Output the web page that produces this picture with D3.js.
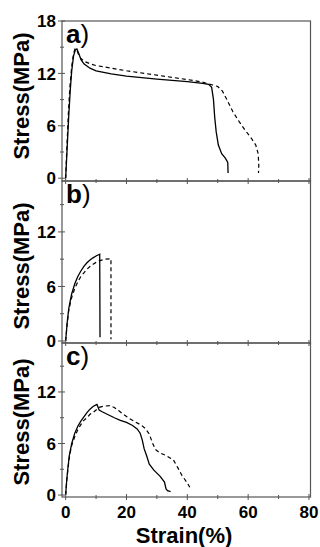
<!DOCTYPE html>
<html>
<head>
<meta charset="utf-8">
<script src="https://cdn.jsdelivr.net/npm/d3@7"></script>
<style>
	body { margin: 0; background: #fff; }
	text { font-family: "Liberation Sans", Arial, sans-serif; font-weight: bold; fill: #000; }
</style>
</head>
<body>
<div class="chart"></div>
<script>
// strain (%) / stress (MPa) pairs
let aSolid = [[0,0],[0.5,3.5],[1,7],[1.5,10],[2,12.3],[2.6,14],[3.2,14.7],[3.7,14.8],[4.3,14.3],[5,13.6],[6,13.1],[8,12.6],[10,12.3],[15,11.95],[20,11.7],[30,11.35],[40,11.05],[45,10.85],[47,10.75],[48,10.4],[48.6,9],[49,7],[49.5,5.3],[50.2,3.8],[51.3,2.8],[52.5,2.3],[53.3,1.8],[53.4,0.6]];
let aDash = [[0,0],[0.4,3.5],[0.9,7.5],[1.4,10.5],[2,12.8],[2.6,14.3],[3.1,14.8],[3.6,14.7],[4.2,14.2],[5,13.7],[6,13.4],[8,13.1],[10,12.9],[15,12.6],[20,12.3],[30,11.8],[40,11.3],[45,11.0],[48,10.7],[50,10.5],[51.5,10.0],[53,9.0],[55,7.6],[57,6.5],[59,5.5],[61,4.6],[62.5,3.8],[63.3,2.8],[63.5,1.5],[63.4,0.6]];
let bSolid = [[0,0],[0.5,2],[1,3.5],[1.5,4.4],[2,5.2],[3,6.3],[4,7.1],[5,7.7],[6,8.2],[7,8.6],[8,8.9],[9,9.15],[10,9.35],[11.2,9.55],[11.3,0.4]];
let bDash = [[0,0],[0.5,1.9],[1,3.3],[1.5,4.1],[2,4.8],[3,5.8],[4,6.5],[5,7.1],[6,7.5],[7,7.9],[8,8.2],[9,8.45],[10,8.65],[11.2,8.85],[13,9.0],[14.9,9.05],[14.9,0.2]];
let cSolid = [[0,0],[0.3,1.5],[0.7,3],[1.2,4.6],[2,6.0],[3,7.2],[4,8.0],[5,8.6],[6,9.1],[7,9.6],[8,10.0],[9,10.3],[10,10.5],[10.3,10.55],[11,9.9],[12,9.7],[14,9.35],[16,9.0],[18,8.7],[20,8.45],[22,8.1],[23.5,7.7],[24.5,7.2],[25.2,6.4],[25.8,5.4],[26.6,4.6],[27.5,3.6],[29,2.9],[31,2.2],[32.5,1.5],[33,0.7],[33.5,0.5],[34.5,0.4]];
let cDash = [[0,0],[0.4,1.8],[0.8,3.2],[1.3,4.6],[2,5.8],[3,6.8],[4,7.6],[5,8.2],[6,8.7],[7,9.0],[8,9.4],[9,9.6],[10,9.9],[11,10.2],[12.5,10.35],[14.5,10.4],[16,10.2],[17.5,9.8],[19,9.4],[21,8.9],[23,8.5],[25,8.1],[26.3,7.7],[27.5,7.1],[28.5,6.1],[29.5,5.3],[31,4.9],[33,4.6],[35.4,4.1],[37,3.1],[38.2,2.3],[40,1.4],[40.8,0.9]];

let panelNames = ['a', 'b', 'c'];
let yTickLabels = [[0, 6, 12, 18], [0, 6, 12], [0, 6, 12]];
let yMinorTicks = [3, 9, 15];
let xTickLabels = [0, 20, 40, 60, 80];
let xMinorTicks = [10, 30, 50, 70];

let svg = d3.select('.chart')
	.append('svg')
	.attr('width', 320)
	.attr('height', 547);

let x = d3.scaleLinear().domain([-1.2, 80.5]).range([62, 310.5]);

// frame placement of each panel
let panels = [
	{ top: 21, bottom: 181, ymin: -0.32, ymax: 18, mid: 96, solid: aSolid, dash: aDash },
	{ top: 181, bottom: 343, ymin: -0.22, ymax: 17.6, mid: 266, solid: bSolid, dash: bDash },
	{ top: 343, bottom: 497, ymin: -0.23, ymax: 17.7, mid: 422, solid: cSolid, dash: cDash }
];

panels.forEach((p, i) => {
	let y = d3.scaleLinear().domain([p.ymin, p.ymax]).range([p.bottom, p.top]);
	let g = svg.append('g');

	let line = d3.line()
		.x(d => x(d[0]))
		.y(d => y(d[1]));

	g.append('path')
		.attr('d', line(p.solid))
		.attr('fill', 'none')
		.attr('stroke', '#000')
		.attr('stroke-width', 1.3);

	g.append('path')
		.attr('d', line(p.dash))
		.attr('fill', 'none')
		.attr('stroke', '#000')
		.attr('stroke-width', 1.2)
		.attr('stroke-dasharray', '4,3');

	g.append('rect')
		.attr('x', x.range()[0])
		.attr('y', p.top)
		.attr('width', x.range()[1] - x.range()[0])
		.attr('height', p.bottom - p.top)
		.attr('fill', 'none')
		.attr('stroke', '#555')
		.attr('stroke-width', 1.2);

	// x ticks cross the bottom edge
	g.selectAll('.xt')
		.data(xTickLabels.concat(xMinorTicks))
		.join('line')
		.attr('x1', d => x(d))
		.attr('x2', d => x(d))
		.attr('y1', d => p.bottom - (d % 20 == 0 ? 3 : 2))
		.attr('y2', d => p.bottom + (d % 20 == 0 ? 3 : 2))
		.attr('stroke', '#555')
		.attr('stroke-width', 1);

	g.selectAll('.yt')
		.data(yTickLabels[i].concat(yMinorTicks))
		.join('line')
		.attr('x1', d => x.range()[0] - (d % 6 == 0 ? 4 : 2))
		.attr('x2', d => x.range()[0] + (d % 6 == 0 ? 3 : 2))
		.attr('y1', d => y(d))
		.attr('y2', d => y(d))
		.attr('stroke', '#555')
		.attr('stroke-width', 1);

	g.selectAll('.yl')
		.data(yTickLabels[i])
		.join('text')
		.text(d => d)
		.attr('x', 56)
		.attr('y', d => y(d))
		.attr('dy', '0.36em')
		.attr('text-anchor', 'end')
		.attr('font-size', '17px');

	let lab = g.append('text')
		.attr('x', 66)
		.attr('y', p.top + 22)
		.attr('font-size', '26px');
	lab.append('tspan').text(panelNames[i]);
	lab.append('tspan').text(')').attr('font-weight', 'normal');

	g.append('text')
		.text('Stress(MPa)')
		.attr('transform', 'translate(29,' + p.mid + ') rotate(-90)')
		.attr('text-anchor', 'middle')
		.attr('font-size', '22px');
});

svg.append('g')
	.selectAll('text')
	.data(xTickLabels)
	.join('text')
	.text(d => d)
	.attr('x', d => x(d))
	.attr('y', 518)
	.attr('text-anchor', 'middle')
	.attr('font-size', '17px');

svg.append('text')
	.text('Strain(%)')
	.attr('x', 184)
	.attr('y', 543)
	.attr('text-anchor', 'middle')
	.attr('font-size', '22px');
</script>
</body>
</html>
